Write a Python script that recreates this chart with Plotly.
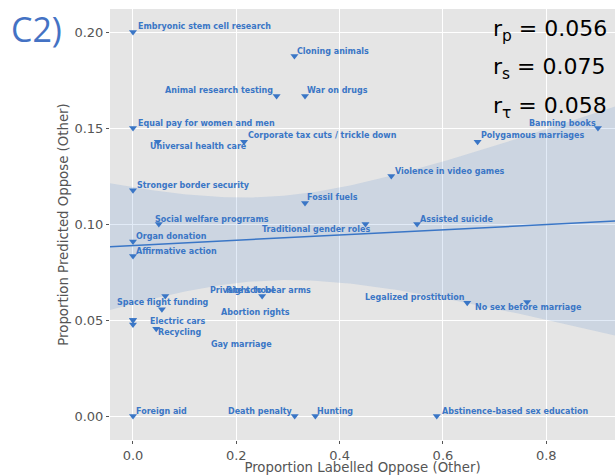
import numpy as np
import plotly.graph_objects as go

# Topics and their proportions
topics = [
    "Embryonic stem cell research", "Cloning animals", "Animal research testing", "War on drugs",
    "Equal pay for women and men", "Universal health care", "Corporate tax cuts / trickle down",
    "Banning books", "Polygamous marriages", "Stronger border security", "Fossil fuels",
    "Social welfare progrrams", "Traditional gender roles", "Organ donation", "Affirmative action",
    "Violence in video games", "Assisted suicide", "Private school", "Right to bear arms",
    "Space flight funding", "Electric cars", "Recycling", "Abortion rights", "Gay marriage",
    "Legalized prostitution", "No sex before marriage", "Foreign aid", "Death penalty", "Hunting",
    "Abstinence-based sex education",
]
labelled_oppose = [
    0.0, 0.3125, 0.278, 0.333, 0.0, 0.048, 0.215, 0.9, 0.667, 0.0, 0.333,
    0.05, 0.45, 0.0, 0.0, 0.5, 0.55, 0.0625, 0.25, 0.056, 0.0, 0.045, 0.0, 0.0,
    0.647, 0.763, 0.0, 0.313, 0.353, 0.588,
]
predicted_oppose = [
    0.20, 0.1875, 0.1667, 0.1667, 0.15, 0.1429, 0.1429, 0.15, 0.1429, 0.1176, 0.111,
    0.10, 0.10, 0.0909, 0.0833, 0.125, 0.10, 0.0625, 0.0625, 0.0556, 0.05, 0.0455, 0.05, 0.0476,
    0.059, 0.0594, 0.0, 0.0, 0.0, 0.0,
]
stats = [("p", "0.056"), ("s", "0.075"), ("τ", "0.058")]

# label placement (pixel offsets from each point, anchor side) mimicking adjustText
label_pos = [
    (3, 6, "left"), (1, 5, "left"), (-2, 5, "right"), (0, 5, "left"),
    (3, 5, "left"), (-10, -5, "left"), (2, 6, "left"),
    (0, 5, "right"), (1, 6, "left"), (2, 5, "left"), (0, 5, "left"),
    (-6, 5, "left"), (7, -5, "right"), (1, 5, "left"), (1, 5, "left"),
    (2, 5, "left"), (1, 5, "left"), (43, 6, "left"), (-38, 6, "left"),
    (-47, 7, "left"), (15, -1, "left"), (0, -4, "left"), (86, 8, "left"), (76, -20, "left"),
    (0, 5, "right"), (-54, -6, "left"), (1, 5, "left"), (0, 5, "right"), (0, 5, "left"),
    (3, 5, "left"),
]
stat_rows = [31, 68, 107]

blue = "#3a76c6"
x = np.array(labelled_oppose)
y = np.array(predicted_oppose)

# linear fit with 95% confidence band
slope, intercept = np.polyfit(x, y, 1)
n = len(x)
resid = y - (slope * x + intercept)
s = np.sqrt(np.sum(resid ** 2) / (n - 2))
sxx = np.sum((x - x.mean()) ** 2)
xs = np.linspace(-0.06, 0.96, 120)
fit = slope * xs + intercept
half = 2.048 * s * np.sqrt(1 / n + (xs - x.mean()) ** 2 / sxx)

fig = go.Figure()
fig.add_trace(go.Scatter(x=np.concatenate([xs, xs[::-1]]), y=np.concatenate([fit + half, (fit - half)[::-1]]),
                         fill="toself", fillcolor="rgba(58,118,198,0.15)", line=dict(width=0),
                         hoverinfo="skip", showlegend=False))
fig.add_trace(go.Scatter(x=xs, y=fit, mode="lines", line=dict(color=blue, width=1.5), showlegend=False))
fig.add_trace(go.Scatter(x=x, y=y, mode="markers",
                         marker=dict(symbol="triangle-down", size=7, color=blue),
                         text=topics, showlegend=False))

for t, xi, yi, (dx, dy, side) in zip(topics, labelled_oppose, predicted_oppose, label_pos):
    fig.add_annotation(x=xi, y=yi, text="<b>" + t + "</b>", showarrow=False,
                       xanchor=side, yanchor="middle", xshift=dx, yshift=dy,
                       font=dict(family="DejaVu Sans", size=8, color=blue))

for (sub, val), row in zip(stats, stat_rows):
    fig.add_annotation(xref="paper", yref="paper", x=0.755, y=1 - (row - 9) / 431,
                       text=f"r<sub>{sub}</sub> = {val}", showarrow=False, xanchor="left",
                       yanchor="middle", font=dict(family="DejaVu Sans", size=22, color="black"))

fig.add_annotation(xref="paper", yref="paper", x=-0.2, y=1.012, text="C2)", showarrow=False,
                   xanchor="left", yanchor="top",
                   font=dict(family="Open Sans", size=34, color="#4472c4"))

axis_common = dict(showgrid=True, gridcolor="white", gridwidth=1, zeroline=False,
                   ticks="outside", ticklen=3, tickcolor="#555", showline=False,
                   tickfont=dict(family="DejaVu Sans", size=13, color="#555"))
fig.update_xaxes(range=[-0.0445, 0.933], tickvals=[0, 0.2, 0.4, 0.6, 0.8], tickformat=".1f",
                 title=dict(text="Proportion Labelled Oppose (Other)", standoff=0,
                            font=dict(family="DejaVu Sans", size=13.3, color="#555")),
                 **axis_common)
fig.update_yaxes(range=[-0.0125, 0.212], tickvals=[0, 0.05, 0.1, 0.15, 0.2], tickformat=".2f",
                 title=dict(text="Proportion Predicted Oppose (Other)", standoff=2,
                            font=dict(family="DejaVu Sans", size=13.3, color="#555")),
                 **axis_common)
fig.update_layout(width=615, height=475, margin=dict(l=110, r=0, t=9, b=35),
                  plot_bgcolor="#e5e5e5", paper_bgcolor="white")
fig.write_html("out.html", config={"displayModeBar": False},
               post_script="document.body.style.margin='0';")
